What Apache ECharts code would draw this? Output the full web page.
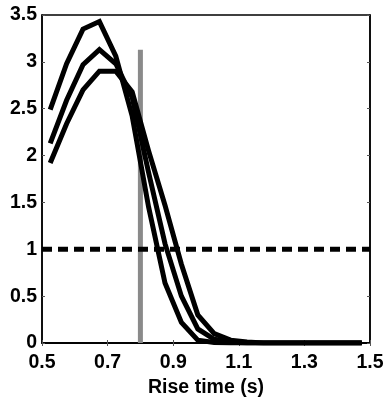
<!DOCTYPE html>
<html>
<head>
<meta charset="utf-8">
<script src="https://cdn.jsdelivr.net/npm/echarts@6/dist/echarts.min.js"></script>
<style>html,body{margin:0;padding:0;background:#fff}#c{width:386px;height:398px}</style>
</head>
<body>
<div id="c"></div>
<script>
const riseTime = [0.525,0.575,0.625,0.675,0.725,0.775,0.825,0.875,0.925,0.975,1.025,1.075,1.125,1.175,1.225,1.275,1.325,1.375,1.425,1.475];
const seriesA = [2.49,2.98,3.35,3.43,3.06,2.42,1.45,0.64,0.22,0.03,0.005,0,0,0,0,0,0,0,0,0];
const seriesB = [2.13,2.59,2.97,3.13,2.98,2.62,1.82,1.06,0.50,0.15,0.04,0.01,0,0,0,0,0,0,0,0];
const seriesC = [1.92,2.34,2.70,2.90,2.90,2.68,2.05,1.47,0.84,0.30,0.10,0.03,0.01,0,0,0,0,0,0,0];
const thresholdY = 1;
const markerX = 0.8;
const markerTop = 3.13;
const xTickLabels = ['0.5','0.7','0.9','1.1','1.3','1.5'];
const yTickLabels = ['0','0.5','1','1.5','2','2.5','3','3.5'];
const xName = 'Rise time (s)';

const font = 'Liberation Sans, Arial, Helvetica, sans-serif';
const fs = 19.5;
const pair = (xs, ys) => xs.map((x, i) => [x, ys[i]]);
const blackLine = (d) => ({type:'line', data:pair(riseTime, d), symbol:'none', z:5,
  lineStyle:{color:'#000', width:5, join:'miter'}, animation:false});

const chart = echarts.init(document.getElementById('c'), null, {renderer:'canvas'});
const baseAxis = {
  axisLine:{show:true, lineStyle:{color:'#000', width:1.5}},
  axisTick:{show:true, inside:true, length:3, lineStyle:{color:'#555', width:1}},
  splitLine:{show:false}
};
chart.setOption({
  animation:false,
  grid:{left:42, top:15, right:16, bottom:55, containLabel:false, outerBoundsMode:'none',
    show:true, borderColor:'#000', borderWidth:1.5, backgroundColor:'#fff'},
  xAxis:[
    Object.assign({}, baseAxis, {type:'value', min:0.5, max:1.5, interval:0.2, position:'bottom',
      name:xName, nameLocation:'middle', nameGap:29,
      nameTextStyle:{fontFamily:font, fontWeight:'bold', fontSize:fs, color:'#000'},
      axisLabel:{fontFamily:font, fontWeight:'bold', fontSize:fs, color:'#000', margin:10,
        formatter:(v)=>{const i=Math.round((v-0.5)/0.2); return xTickLabels[i] ?? '';}}}),
    Object.assign({}, baseAxis, {type:'value', min:0.5, max:1.5, interval:0.2, position:'top',
      axisLabel:{show:false}})
  ],
  yAxis:[
    Object.assign({}, baseAxis, {type:'value', min:0, max:3.5, interval:0.5, position:'left',
      axisLabel:{fontFamily:font, fontWeight:'bold', fontSize:fs, color:'#000', margin:5,
        formatter:(v)=>{const i=Math.round(v/0.5); return yTickLabels[i] ?? '';}}}),
    Object.assign({}, baseAxis, {type:'value', min:0, max:3.5, interval:0.5, position:'right',
      axisLabel:{show:false}})
  ],
  series:[
    {type:'line', data:[[markerX,0],[markerX,markerTop]], symbol:'none', z:2,
      lineStyle:{color:'#8a8a8a', width:5, cap:'butt'}},
    {type:'line', data:[[0.5,thresholdY],[1.5,thresholdY]], symbol:'none', z:3,
      lineStyle:{color:'#000', width:5, type:[10,6], cap:'butt'}},
    blackLine(seriesA),
    blackLine(seriesB),
    blackLine(seriesC)
  ]
});
</script>
</body>
</html>
